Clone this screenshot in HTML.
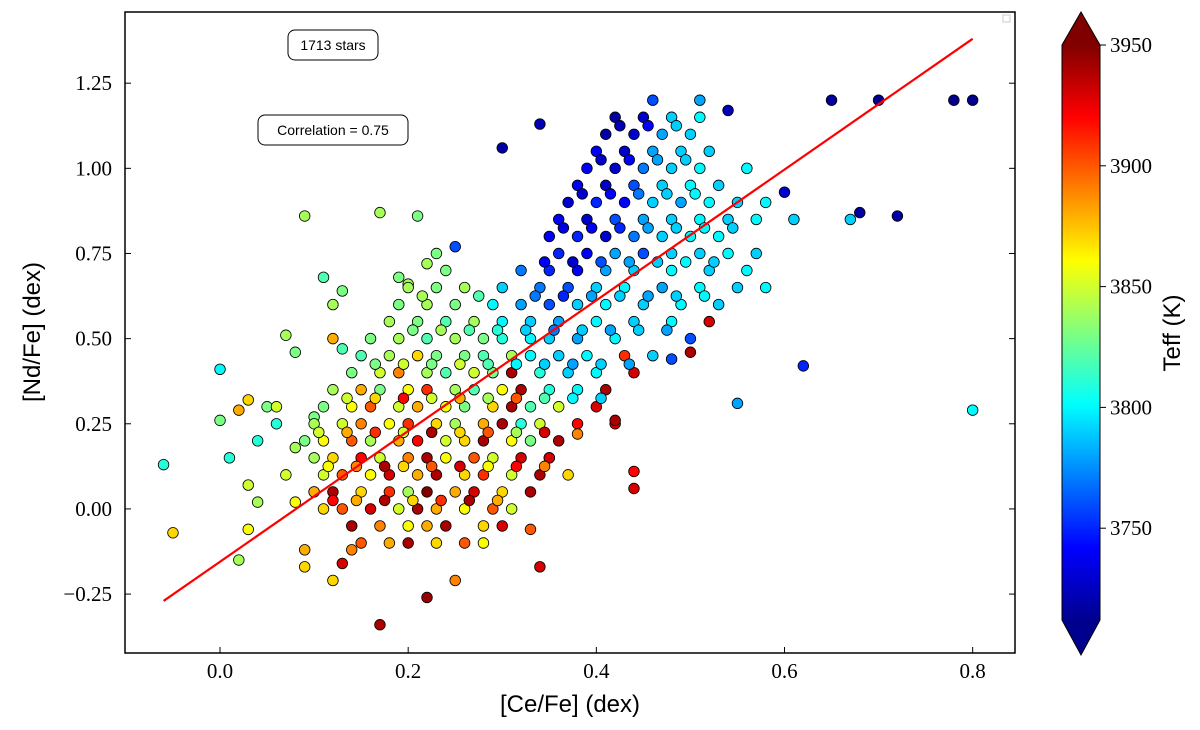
<!DOCTYPE html>
<html><head><meta charset="utf-8"><style>
html,body{margin:0;padding:0;background:#fff;}
svg{display:block;}
.tick{font-family:"Liberation Serif",serif;font-size:21px;fill:#000;}
.lab{font-family:"Liberation Sans",sans-serif;font-size:24px;fill:#000;}
</style></head><body>
<svg id="chart" width="1200" height="730" xmlns="http://www.w3.org/2000/svg">
<defs>
<linearGradient id="jet" x1="0" y1="1" x2="0" y2="0">
<stop offset="0" stop-color="#00008f"/><stop offset="0.125" stop-color="#0000ff"/>
<stop offset="0.375" stop-color="#00ffff"/><stop offset="0.625" stop-color="#ffff00"/>
<stop offset="0.875" stop-color="#ff0000"/><stop offset="1" stop-color="#800000"/>
</linearGradient>
<clipPath id="clip"><rect x="125" y="12" width="890" height="641"/></clipPath>
</defs>
<g id="points" clip-path="url(#clip)"></g>
<g id="fit"></g>
<rect x="125" y="12" width="890" height="641" fill="none" stroke="#000" stroke-width="1.5"/>
<g id="xticks"></g>
<g id="yticks"></g>
<text class="lab" x="570" y="712" text-anchor="middle">[Ce/Fe] (dex)</text>
<text class="lab" x="40" y="332" text-anchor="middle" transform="rotate(-90 40 332)">[Nd/Fe] (dex)</text>
<g>
<rect x="288" y="30" width="90" height="30" rx="7" fill="#fff" stroke="#000"/>
<text x="333" y="50" text-anchor="middle" font-family="Liberation Sans,sans-serif" font-size="14">1713 stars</text></g>
<g>
<rect x="258" y="115" width="150" height="30" rx="7" fill="#fff" stroke="#000"/>
<text x="333" y="135" text-anchor="middle" font-family="Liberation Sans,sans-serif" font-size="14">Correlation = 0.75</text></g>
<rect x="1003" y="15" width="7" height="7" fill="none" stroke="#ccc"/>
<g>
<polygon points="1062,45 1100,45 1081,12" fill="#800000"/>
<polygon points="1062,620 1100,620 1081,655" fill="#00008f"/>
<rect x="1062" y="45" width="38" height="575" fill="url(#jet)"/>
<polygon points="1062,45 1081,12 1100,45 1100,620 1081,655 1062,620" fill="none" stroke="#000" stroke-width="1"/>
<g id="cbticks"></g>
<text class="lab" x="1180" y="333" font-size="20" text-anchor="middle" transform="rotate(-90 1180 333)">Teff (K)</text>
</g>
</svg>
<script>
const xTicks=[0.0,0.2,0.4,0.6,0.8];
const xTickLabels=["0.0","0.2","0.4","0.6","0.8"];
const yTicks=[-0.25,0,0.25,0.5,0.75,1.0,1.25];
const yTickLabels=["\u22120.25","0.00","0.25","0.50","0.75","1.00","1.25"];
const cbTicks=[3750,3800,3850,3900,3950];
const fitX=[-0.06,0.8];
const fitSlope=1.919, fitIntercept=-0.155;
const ceValues=[
-0.06,-0.05,0.0,0.0,0.01,0.02,0.02,0.03,0.03,0.03,0.04,0.04,0.05,0.06,0.06,0.07,0.08,0.09,0.07,0.08,0.09,0.09,0.08,0.1,0.1,
0.11,0.12,0.13,0.13,0.12,0.12,0.13,0.14,
0.17,0.17,0.19,0.2,0.21,0.22,0.25,0.25,0.23,0.22,
0.15,0.18,0.2,0.23,0.26,0.28,
0.14,0.17,0.2,0.22,0.24,0.28,0.3,
0.11,0.13,0.16,0.19,0.21,0.23,0.26,0.29,0.31,
0.1,0.12,0.15,0.18,0.2,0.22,0.25,0.27,0.3,0.33,
0.11,0.13,0.16,0.18,0.21,0.23,0.26,0.28,0.31,0.34,0.37,
0.1,0.12,0.15,0.17,0.2,0.22,0.24,0.27,0.29,0.32,0.35,
0.09,0.11,0.14,0.16,0.19,0.21,0.24,0.26,0.28,0.31,0.33,0.36,
0.1,0.13,0.15,0.18,0.2,0.23,0.25,0.28,0.3,0.32,0.34,0.38,0.42,
0.11,0.14,0.16,0.19,0.21,0.24,0.26,0.29,0.31,0.33,0.36,
0.12,0.15,0.17,0.2,0.22,0.25,0.27,0.3,0.32,0.35,0.38,0.41,
0.14,0.17,0.19,0.22,0.24,0.27,0.29,0.31,0.34,0.37,0.4,0.44,
0.15,0.18,0.21,0.23,0.26,0.28,0.31,0.33,0.36,0.39,0.43,0.46,
0.16,0.19,0.22,0.25,0.28,0.3,0.33,0.35,0.38,0.42,0.5,
0.18,0.21,0.24,0.27,0.3,0.33,0.36,0.4,0.44,0.48,0.52,
0.19,0.22,0.25,0.29,0.32,0.35,0.38,0.41,0.45,0.49,0.53,
0.2,0.23,0.26,0.3,0.34,0.37,0.4,0.43,0.47,0.51,0.55,0.58,
0.24,0.32,0.35,0.38,0.41,0.44,0.48,0.52,0.56,
0.36,0.39,0.42,0.45,0.48,0.51,0.54,0.57,
0.35,0.38,0.41,0.44,0.47,0.5,0.53,
0.36,0.39,0.42,0.45,0.48,0.51,0.54,0.57,0.61,
0.37,0.4,0.43,0.46,0.49,0.52,0.55,0.58,
0.38,0.41,0.44,0.47,0.5,0.53,
0.39,0.42,0.45,0.48,0.51,0.56,
0.4,0.43,0.46,0.49,0.52,
0.41,0.44,0.47,0.5,
0.42,0.45,0.48,0.51,
0.46,0.51,0.65,0.7,0.78,0.8,
0.3,0.34,0.54,0.6,0.67,0.68,0.72,0.62,0.8,0.55,0.44,0.44,0.34,0.33,0.35,0.4,0.5,0.48,0.38,0.42
];
const ndValues=[
0.13,-0.07,0.41,0.26,0.15,0.29,-0.15,0.32,0.07,-0.06,0.2,0.02,0.3,0.3,0.25,0.51,0.46,0.86,0.1,0.02,-0.12,-0.17,0.18,0.27,0.05,
0.68,0.6,0.64,0.47,0.5,-0.21,-0.16,-0.12,
0.87,-0.34,0.68,0.66,0.86,-0.26,-0.21,0.77,0.75,0.72,
-0.1,-0.1,-0.1,-0.1,-0.1,-0.1,
-0.05,-0.05,-0.05,-0.05,-0.05,-0.05,-0.05,
0,0,0,0,0,0,0,0,0,
0.05,0.05,0.05,0.05,0.05,0.05,0.05,0.05,0.05,0.05,
0.1,0.1,0.1,0.1,0.1,0.1,0.1,0.1,0.1,0.1,0.1,
0.15,0.15,0.15,0.15,0.15,0.15,0.15,0.15,0.15,0.15,0.15,
0.2,0.2,0.2,0.2,0.2,0.2,0.2,0.2,0.2,0.2,0.2,0.2,
0.25,0.25,0.25,0.25,0.25,0.25,0.25,0.25,0.25,0.25,0.25,0.25,0.25,
0.3,0.3,0.3,0.3,0.3,0.3,0.3,0.3,0.3,0.3,0.3,
0.35,0.35,0.35,0.35,0.35,0.35,0.35,0.35,0.35,0.35,0.35,0.35,
0.4,0.4,0.4,0.4,0.4,0.4,0.4,0.4,0.4,0.4,0.4,0.4,
0.45,0.45,0.45,0.45,0.45,0.45,0.45,0.45,0.45,0.45,0.45,0.45,
0.5,0.5,0.5,0.5,0.5,0.5,0.5,0.5,0.5,0.5,0.5,
0.55,0.55,0.55,0.55,0.55,0.55,0.55,0.55,0.55,0.55,0.55,
0.6,0.6,0.6,0.6,0.6,0.6,0.6,0.6,0.6,0.6,0.6,
0.65,0.65,0.65,0.65,0.65,0.65,0.65,0.65,0.65,0.65,0.65,0.65,
0.7,0.7,0.7,0.7,0.7,0.7,0.7,0.7,0.7,
0.75,0.75,0.75,0.75,0.75,0.75,0.75,0.75,
0.8,0.8,0.8,0.8,0.8,0.8,0.8,
0.85,0.85,0.85,0.85,0.85,0.85,0.85,0.85,0.85,
0.9,0.9,0.9,0.9,0.9,0.9,0.9,0.9,
0.95,0.95,0.95,0.95,0.95,0.95,
1.0,1.0,1.0,1.0,1.0,1.0,
1.05,1.05,1.05,1.05,1.05,
1.1,1.1,1.1,1.1,
1.15,1.15,1.15,1.15,
1.2,1.2,1.2,1.2,1.2,1.2,
1.06,1.13,1.17,0.93,0.85,0.87,0.86,0.42,0.29,0.31,0.06,0.11,-0.17,-0.06,0.15,0.3,0.46,0.44,0.22,0.26
];
const teffValues=[
3810,3870,3800,3830,3810,3880,3840,3870,3850,3860,3810,3840,3830,3850,3810,3840,3830,3840,3850,3860,3880,3870,3840,3830,3900,
3820,3840,3830,3820,3880,3870,3930,3890,
3840,3940,3830,3840,3830,3945,3890,3760,3830,3840,
3900,3880,3940,3870,3900,3860,
3940,3890,3860,3880,3940,3870,3930,
3870,3900,3930,3850,3940,3880,3860,3900,3850,
3880,3940,3870,3910,3840,3950,3880,3930,3870,3940,
3850,3900,3860,3930,3880,3940,3870,3910,3850,3940,3870,
3840,3870,3920,3850,3890,3940,3860,3900,3850,3930,3820,
3830,3860,3900,3840,3880,3920,3850,3870,3940,3860,3830,3940,
3840,3850,3890,3860,3910,3870,3840,3880,3940,3810,3850,3920,3930,
3830,3860,3900,3850,3880,3860,3830,3870,3940,3820,3850,
3840,3880,3830,3860,3910,3840,3820,3860,3940,3810,3800,3940,
3830,3850,3890,3840,3820,3850,3830,3940,3810,3790,3800,3930,
3820,3840,3870,3830,3830,3820,3840,3800,3790,3800,3910,3790,
3830,3840,3820,3840,3830,3810,3800,3790,3780,3800,3760,
3840,3830,3820,3840,3800,3790,3780,3800,3790,3800,3930,
3830,3840,3830,3800,3780,3760,3790,3800,3790,3800,3790,
3840,3830,3840,3790,3770,3760,3790,3800,3780,3800,3790,3800,
3830,3770,3750,3740,3780,3790,3800,3790,3800,
3750,3740,3780,3760,3790,3790,3800,3790,
3740,3750,3730,3770,3790,3800,3800,
3740,3730,3760,3780,3790,3800,3790,3800,3790,
3730,3750,3740,3790,3780,3800,3790,3800,
3740,3730,3760,3790,3800,3790,
3740,3730,3770,3790,3800,3800,
3740,3730,3780,3790,3790,
3720,3730,3780,3790,
3720,3730,3790,3800,
3760,3780,3720,3715,3715,3715,
3720,3725,3725,3730,3790,3720,3720,3750,3800,3780,3930,3920,3930,3900,3930,3930,3940,3760,3890,3940
];
const extraCe=[
0.12,0.145,0.175,0.205,0.235,0.265,0.295,
0.115,0.145,0.175,0.195,0.225,0.255,0.285,0.315,0.345,
0.105,0.135,0.165,0.195,0.225,0.255,0.285,0.315,0.345,
0.135,0.165,0.195,0.225,0.255,0.285,0.315,0.345,0.375,0.405,
0.165,0.195,0.225,0.255,0.285,0.315,0.345,0.375,0.405,0.435,
0.205,0.235,0.265,0.295,0.325,0.355,0.385,0.415,0.445,0.475,
0.215,0.275,0.335,0.365,0.395,0.425,0.455,0.485,0.515,
0.345,0.375,0.405,0.435,0.465,0.495,0.525,
0.365,0.395,0.425,0.455,0.485,0.515,0.545,
0.385,0.415,0.445,0.475,0.505,
0.405,0.435,0.465,0.495,
0.425,0.455,0.485
];
const extraNd=[
0.025,0.025,0.025,0.025,0.025,0.025,0.025,
0.125,0.125,0.125,0.125,0.125,0.125,0.125,0.125,0.125,
0.225,0.225,0.225,0.225,0.225,0.225,0.225,0.225,0.225,
0.325,0.325,0.325,0.325,0.325,0.325,0.325,0.325,0.325,0.325,
0.425,0.425,0.425,0.425,0.425,0.425,0.425,0.425,0.425,0.425,
0.525,0.525,0.525,0.525,0.525,0.525,0.525,0.525,0.525,0.525,
0.625,0.625,0.625,0.625,0.625,0.625,0.625,0.625,0.625,
0.725,0.725,0.725,0.725,0.725,0.725,0.725,
0.825,0.825,0.825,0.825,0.825,0.825,0.825,
0.925,0.925,0.925,0.925,0.925,
1.025,1.025,1.025,1.025,
1.125,1.125,1.125
];
const extraTeff=[
3920,3880,3940,3870,3910,3940,3880,
3860,3890,3940,3870,3900,3930,3860,3920,3890,
3850,3880,3910,3850,3940,3870,3900,3840,3930,
3850,3870,3920,3850,3880,3840,3900,3820,3800,3790,
3830,3850,3830,3850,3820,3800,3790,3780,3790,3780,
3830,3840,3820,3810,3790,3770,3790,3780,3790,3780,
3840,3820,3770,3750,3780,3790,3780,3790,3800,
3740,3730,3760,3780,3790,3800,3790,
3735,3740,3750,3780,3790,3800,3790,
3730,3740,3770,3790,3800,
3730,3740,3780,3790,
3725,3740,3790
];
const NS="http://www.w3.org/2000/svg";
const X0=125,X1=1015,Y0=653,Y1=12,XMIN=-0.101,XMAX=0.845,YMIN=-0.423,YMAX=1.459;
const TMIN=3712,TMAX=3950;
function xs(v){return X0+(v-XMIN)/(XMAX-XMIN)*(X1-X0);}
function ys(v){return Y0-(v-YMIN)/(YMAX-YMIN)*(Y0-Y1);}
function cy(t){return 620-(t-TMIN)/(TMAX-TMIN)*575;}
function jet(t){let v=Math.max(0,Math.min(1,(t-TMIN)/(TMAX-TMIN)));
 const c=x=>Math.round(255*Math.max(0,Math.min(1,1.5-Math.abs(4*v-x))));
 return `rgb(${c(3)},${c(2)},${c(1)})`;}
const pg=document.getElementById('points');
const allCe=ceValues.concat(extraCe), allNd=ndValues.concat(extraNd), allTeff=teffValues.concat(extraTeff);
for(let i=0;i<allCe.length;i++){
 const c=document.createElementNS(NS,'circle');
 c.setAttribute('cx',xs(allCe[i]));c.setAttribute('cy',ys(allNd[i]));c.setAttribute('r',5.3);
 c.setAttribute('fill',jet(allTeff[i]));c.setAttribute('stroke','#000');c.setAttribute('stroke-width','0.8');
 
 
 pg.appendChild(c);}
const fl=document.createElementNS(NS,'line');
fl.setAttribute('x1',xs(fitX[0]));fl.setAttribute('y1',ys(fitSlope*fitX[0]+fitIntercept));
fl.setAttribute('x2',xs(fitX[1]));fl.setAttribute('y2',ys(fitSlope*fitX[1]+fitIntercept));
fl.setAttribute('stroke','#f00');fl.setAttribute('stroke-width','2.2');


document.getElementById('fit').appendChild(fl);
function add(g,tag,attrs,text){const e=document.createElementNS(NS,tag);for(const k in attrs)e.setAttribute(k,attrs[k]);if(text!==undefined)e.textContent=text;g.appendChild(e);return e;}
const xg=document.getElementById('xticks');
xTicks.forEach((v,i)=>{const x=xs(v);
 add(xg,'line',{x1:x,x2:x,y1:Y0,y2:Y0-6,stroke:'#000'});
 const t=add(xg,'text',{x:x,y:678,'text-anchor':'middle',class:'tick'},xTickLabels[i]);
 
 });
const yg=document.getElementById('yticks');
yTicks.forEach((v,i)=>{const y=ys(v);
 add(yg,'line',{x1:X0,x2:X0+6,y1:y,y2:y,stroke:'#000'});
 add(yg,'line',{x1:X1,x2:X1-6,y1:y,y2:y,stroke:'#000'});
 const t=add(yg,'text',{x:112,y:y+7,'text-anchor':'end',class:'tick'},yTickLabels[i]);
 
 });
const cg=document.getElementById('cbticks');
cbTicks.forEach(v=>{const y=cy(v);
 add(cg,'line',{x1:1100,x2:1106,y1:y,y2:y,stroke:'#000'});
 const t=add(cg,'text',{x:1110,y:y+7,class:'tick'},String(v));
 
 });
</script>
</body></html>
